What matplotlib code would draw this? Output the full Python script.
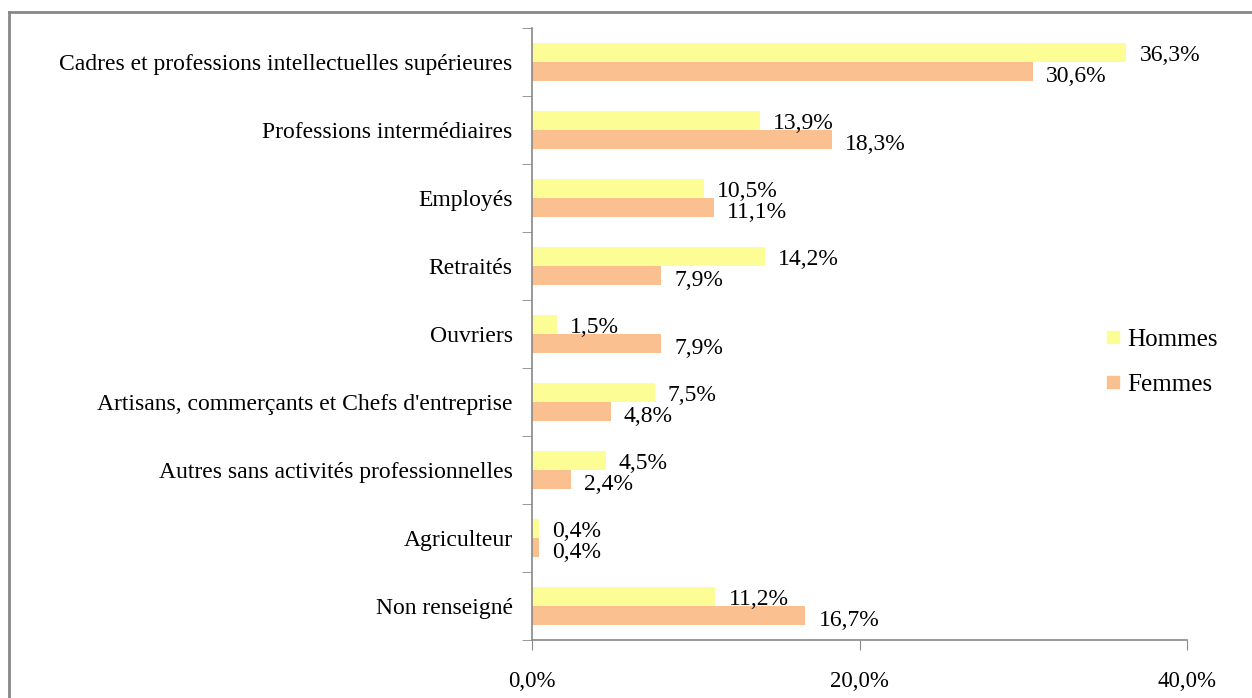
import matplotlib
matplotlib.use("Agg")
import matplotlib.pyplot as plt
from matplotlib.lines import Line2D
import numpy as np

categories = [
    "Cadres et professions intellectuelles supérieures",
    "Professions intermédiaires",
    "Employés",
    "Retraités",
    "Ouvriers",
    "Artisans, commerçants et Chefs d'entreprise",
    "Autres sans activités professionnelles",
    "Agriculteur",
    "Non renseigné",
]
hommes = [36.3, 13.9, 10.5, 14.2, 1.5, 7.5, 4.5, 0.4, 11.2]
femmes = [30.6, 18.3, 11.1, 7.9, 7.9, 4.8, 2.4, 0.4, 16.7]
xticks = [0, 20, 40]
series_names = ["Hommes", "Femmes"]

c_h = "#FDFD96"
c_f = "#FAC090"

plt.rcParams['font.family'] = ['Liberation Serif', 'DejaVu Serif']

W, H = 1252, 698
fig = plt.figure(figsize=(W / 100, H / 100), dpi=100)
ax = fig.add_axes([532 / W, 1 - 640 / H, (1187 - 532) / W, (640 - 28) / H])

n = len(categories)
y = np.arange(n)
bh = 0.28
ax.barh(y - bh / 2, hommes, height=bh, color=c_h, label=series_names[0])
ax.barh(y + bh / 2, femmes, height=bh, color=c_f, label=series_names[1])

for i in range(n):
    ax.text(hommes[i] + 0.8, y[i] - bh / 2 + 0.04, f"{hommes[i]:.1f}%".replace(".", ","),
            va="center", ha="left", fontsize=17)
    ax.text(femmes[i] + 0.8, y[i] + bh / 2 + 0.08, f"{femmes[i]:.1f}%".replace(".", ","),
            va="center", ha="left", fontsize=17)

ax.set_xlim(0, 40)
ax.set_ylim(n - 0.5, -0.5)
ax.set_xticks(xticks)
ax.set_xticklabels([f"{v:.1f}%".replace(".", ",") for v in xticks], fontsize=16.5)
ax.tick_params(axis="x", direction="out", length=7, pad=15, color="#888888")
ax.set_yticks(y)
ax.set_yticklabels(categories, fontsize=17)
ax.tick_params(axis="y", length=0, pad=14)
ax.set_yticks(np.arange(-0.5, n, 1), minor=True)
ax.tick_params(axis="y", which="minor", length=7, color="#888888", direction="out")

for s in ["top", "right"]:
    ax.spines[s].set_visible(False)
for s in ["left", "bottom"]:
    ax.spines[s].set_color("#888888")
    ax.spines[s].set_linewidth(1.2)

handles = [
    Line2D([], [], marker="s", linestyle="none", markersize=8, markerfacecolor=c_h, markeredgecolor=c_h),
    Line2D([], [], marker="s", linestyle="none", markersize=8, markerfacecolor=c_f, markeredgecolor=c_f),
]
fig.legend(handles, series_names, loc="center left", bbox_to_anchor=(1080 / W, 1 - 362 / H),
           frameon=False, fontsize=18, handletextpad=0.2, labelspacing=0.9, handlelength=0.8)

# outer frame (top and left edges)
fig.add_artist(Line2D([9 / W, 9 / W], [0, 1 - 12 / H], transform=fig.transFigure, color="#888888", lw=2))
fig.add_artist(Line2D([9 / W, 1], [1 - 12 / H, 1 - 12 / H], transform=fig.transFigure, color="#888888", lw=2))

fig.savefig("out.png", dpi=100)
